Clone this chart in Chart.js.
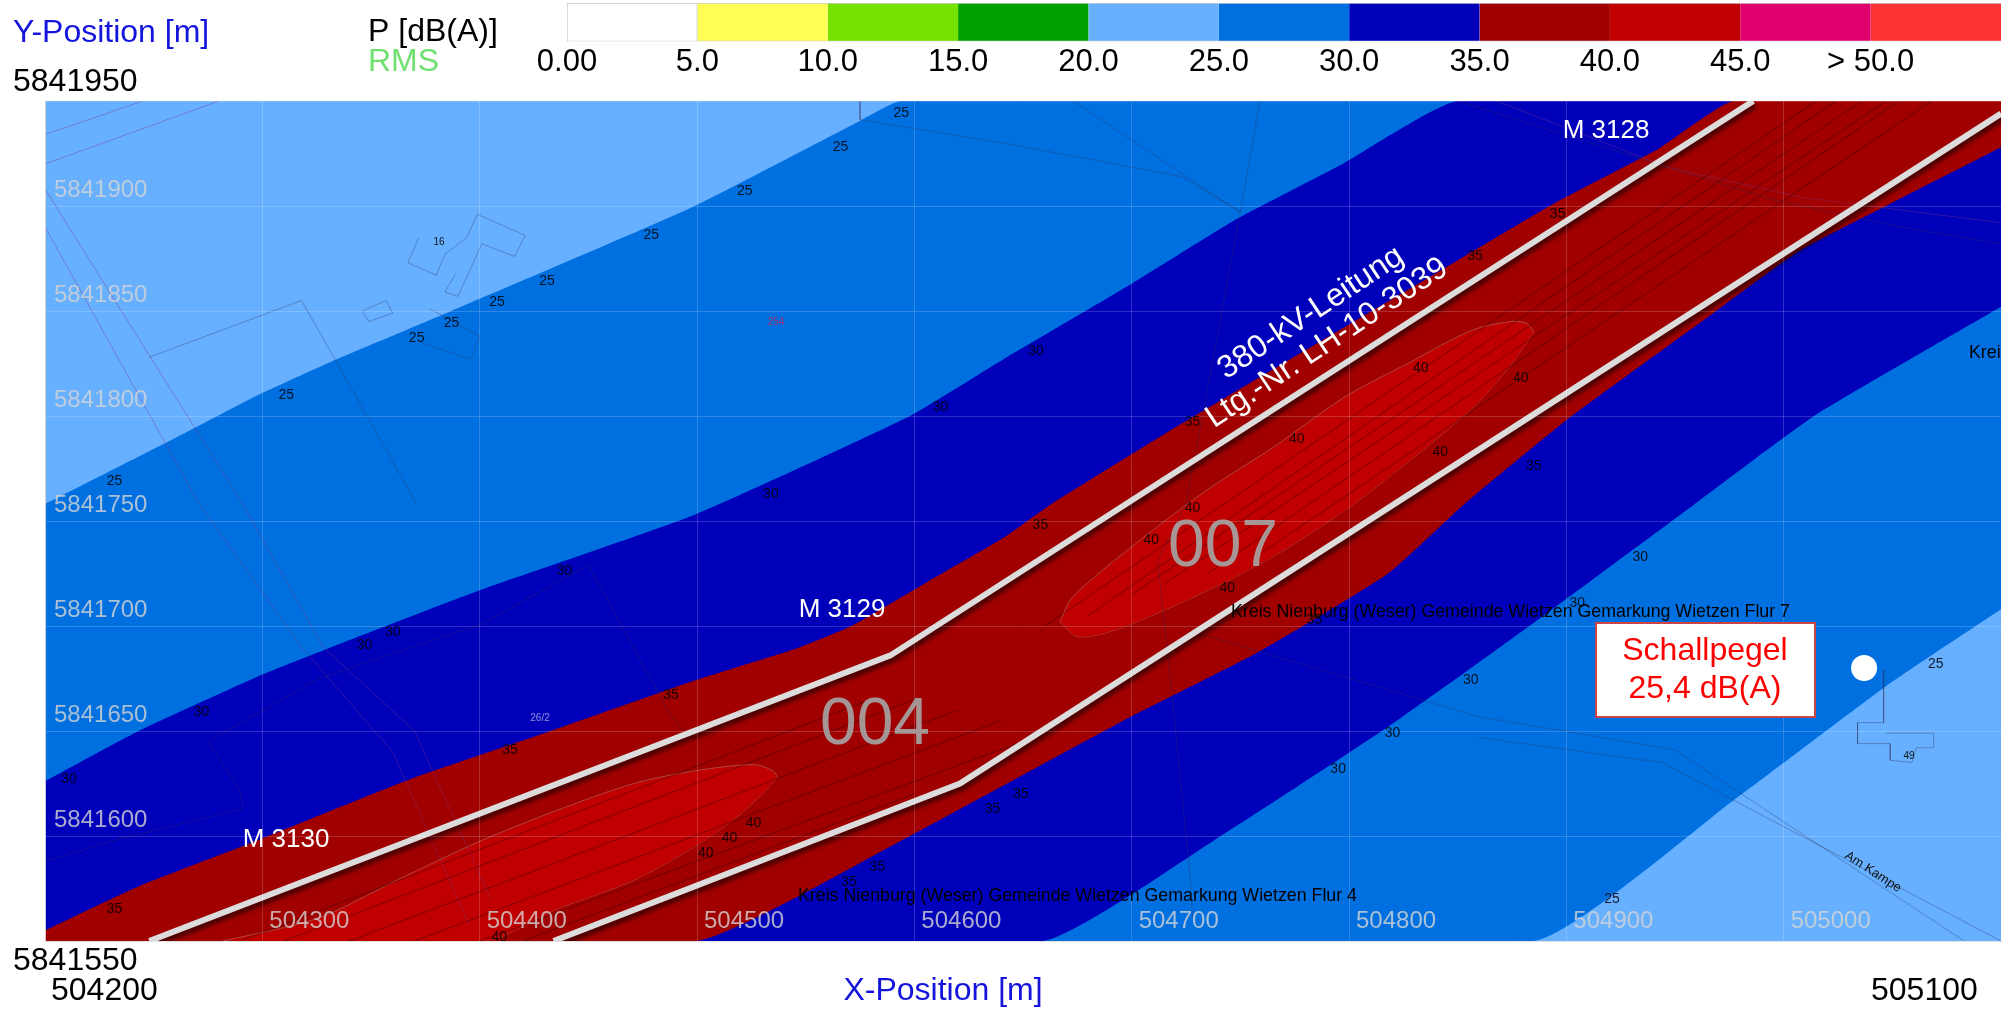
<!DOCTYPE html>
<html>
<head>
<meta charset="utf-8">
<title>Schallpegel</title>
<script src="https://cdn.jsdelivr.net/npm/chart.js@4"></script>
<style>
    html, body { margin: 0; background: #fff; overflow: hidden; }
    canvas { position: absolute; left: 0; top: 0; }
</style>
</head>
<body>
<canvas id="mapChart" width="2008" height="1009"></canvas>
<canvas id="scaleChart" width="2008" height="80"></canvas>
<script>
// Axis values
const xTicks = [504200, 504300, 504400, 504500, 504600, 504700, 504800, 504900, 505000, 505100];
const yTicks = [5841550, 5841600, 5841650, 5841700, 5841750, 5841800, 5841850, 5841900, 5841950];

// Colour scale
const levelSteps = [5, 5, 5, 5, 5, 5, 5, 5, 5, 5, 5];
const levelColors = ['#ffffff', '#ffff55', '#77e100', '#00a000', '#66b0ff', '#0070e0', '#0000bb', '#a00000', '#c00000', '#e0006e', '#ff3333'];
const levelTicks = [0, 5, 10, 15, 20, 25, 30, 35, 40, 45, 50];
const levelLabels = ['0.00', '5.0', '10.0', '15.0', '20.0', '25.0', '30.0', '35.0', '40.0', '45.0', '> 50.0'];

// Contour edges [x, y]
const edge25North = [[504200,5841758],[504259,5841789],[504298,5841810],[504332,5841826],[504387,5841850],[504497,5841899],[504574,5841940],[504594,5841950],[505100,5841950]];
const edge30North = [[504200,5841626],[504243,5841650],[504298,5841676],[504332,5841690],[504400,5841717],[504499,5841753],[504598,5841800],[504641,5841827],[504700,5841863],[504747,5841893],[504797,5841920],[504850,5841950],[505100,5841950]];
const edge35North = [[504200,5841555],[504243,5841576],[504298,5841598],[504368,5841627],[504430,5841649],[504499,5841674],[504545,5841689],[504571,5841700],[504606,5841721],[504641,5841742],[504663,5841758],[504724,5841797],[504853,5841876],[504894,5841901],[504942,5841927],[504977,5841950],[505100,5841950]];
const edge35South = [[504200,5841550],[504500,5841550],[504598,5841600],[504641,5841624],[504700,5841657],[504759,5841688],[504818,5841725],[504853,5841758],[504900,5841798],[504965,5841847],[505006,5841878],[505047,5841900],[505100,5841928]];
const edge30South = [[504200,5841550],[504659,5841550],[504738,5841598],[504818,5841652],[504883,5841700],[504959,5841758],[505014,5841800],[505100,5841852]];
const edge25South = [[504200,5841550],[504885,5841550],[504977,5841617],[505048,5841672],[505100,5841708]];

// 40 dB(A) lobes, upper and lower side
const lobe004Upper = [[504282,5841550],[504326,5841561],[504362,5841579],[504399,5841597],[504435,5841612],[504471,5841625],[504499,5841631],[504526,5841634],[504535,5841631],[504537,5841628]];
const lobe004Lower = [[504282,5841550],[504402,5841550],[504435,5841565],[504471,5841579],[504499,5841595],[504517,5841608],[504529,5841619],[504537,5841628]];
const lobe007Upper = [[504667,5841702],[504673,5841714],[504704,5841741],[504735,5841765],[504765,5841785],[504798,5841809],[504827,5841825],[504857,5841841],[504875,5841845],[504882,5841844],[504885,5841840]];
const lobe007Lower = [[504667,5841702],[504675,5841695],[504689,5841697],[504707,5841704],[504735,5841717],[504765,5841733],[504798,5841755],[504827,5841778],[504857,5841804],[504875,5841825],[504885,5841840]];

// Outer conductors of the line
const conductorNorth = [[504248,5841550],[504589,5841686],[504986,5841950]];
const conductorSouth = [[504434,5841550],[504621,5841625],[505100,5841944]];

// Thin source lines between the conductors
const sourceLines = [
    [[504660,5841700],[505015,5841950]],
    [[504680,5841705],[505024,5841950]],
    [[504700,5841715],[505036,5841950]],
    [[504715,5841720],[505047,5841950]],
    [[504735,5841725],[505053,5841950]],
    [[504760,5841735],[505068,5841950]],
    [[504290,5841550],[504580,5841665]],
    [[504310,5841550],[504600,5841665]],
    [[504340,5841550],[504620,5841660]],
    [[504370,5841550],[504640,5841655]],
    [[504400,5841550],[504650,5841645]],
    [[504420,5841550],[504600,5841620]]
];

// Cadastre: parcels, roads and buildings
const parcelLines = [
    [[504372,5841885],[504367,5841873],[504380,5841867],[504384,5841877],[504394,5841885],[504399,5841896],[504421,5841886],[504416,5841876],[504401,5841882],[504390,5841857],[504384,5841859],[504389,5841868]],
    [[504346,5841850],[504357,5841855],[504360,5841849],[504349,5841845],[504346,5841850]],
    [[504248,5841828],[504318,5841855],[504334,5841826],[504371,5841758]],
    [[504377,5841851],[504400,5841838],[504396,5841827],[504373,5841835]],
    [[504575,5841950],[504575,5841941],[504641,5841930],[504723,5841914],[504750,5841897]],
    [[504673,5841950],[504750,5841897]],
    [[504759,5841950],[504750,5841897],[504734,5841808],[504725,5841758],[504712,5841731],[504719,5841663],[504727,5841580],[504728,5841561]],
    [[504850,5841950],[504936,5841922],[504995,5841903],[505054,5841890],[505100,5841882]],
    [[504729,5841697],[504859,5841657],[504950,5841641],[505083,5841550]],
    [[504859,5841647],[504944,5841635],[505100,5841550]],
    [[505046,5841679],[505046,5841654],[505034,5841654],[505034,5841644],[505049,5841644],[505049,5841636],[505059,5841635],[505061,5841642],[505069,5841642],[505069,5841649],[505058,5841649],[505047,5841649]],
    [[504275,5841645],[504290,5841621],[504291,5841613],[504232,5841598],[504200,5841588]],
    [[504275,5841645],[504326,5841675],[504401,5841701],[504450,5841729],[504488,5841657],[504494,5841650]]
];
const boundaryLines = [
    [[504200,5841934],[504245,5841950]],
    [[504200,5841920],[504280,5841950]],
    [[504200,5841908],[504291,5841758],[504328,5841690],[504370,5841650],[504405,5841570]],
    [[504200,5841890],[504271,5841758],[504318,5841690],[504360,5841640],[504395,5841558]],
    [[504868,5841950],[504948,5841918],[505009,5841904],[505100,5841892]]
];

// Contour level labels
const labels25 = [[504594,5841944],[504566,5841928],[504522,5841907],[504479,5841886],[504431,5841864],[504408,5841854],[504387,5841844],[504371,5841837],[504311,5841810],[504232,5841769],[505070,5841682],[504921,5841570]];
const labels30 = [[504612,5841804],[504534,5841763],[504656,5841831],[504439,5841726],[504360,5841697],[504347,5841691],[504272,5841659],[504211,5841627],[504934,5841733],[504905,5841711],[504856,5841674],[504820,5841649],[504795,5841632]];
const labels35 = [[504896,5841896],[504858,5841876],[504728,5841797],[504885,5841776],[504488,5841667],[504414,5841641],[504232,5841565],[504583,5841585],[504570,5841578],[504636,5841613],[504658,5841748],[504649,5841620],[504784,5841703]];
const labels40 = [[504833,5841823],[504879,5841818],[504776,5841789],[504842,5841783],[504728,5841756],[504709,5841741],[504744,5841718],[504526,5841606],[504515,5841599],[504504,5841592],[504409,5841552]];

// Receiver point
const receiver = [[505037,5841680]];

function toPoints(pairs) {
    return pairs.map(p => ({ x: p[0], y: p[1] }));
}

function edgeDataset(pairs, color) {
    return { data: toPoints(pairs), borderWidth: 0, pointRadius: 0, fill: 'end', backgroundColor: color, tension: 0.15 };
}

function thinDataset(pairs, color, width) {
    return { data: toPoints(pairs), borderColor: color, borderWidth: width, pointRadius: 0, fill: false };
}

const LIGHT = levelColors[4], MID = levelColors[5], DARK = levelColors[6], DEEPRED = levelColors[7], RED = levelColors[8];
const LOBE_LINE = 'rgba(170,100,90,0.7)';

// First dataset is painted on top, so the list runs from front to back
let datasets = [];
datasets.push({ data: toPoints(receiver), pointRadius: 13, pointBackgroundColor: '#fff', pointBorderWidth: 0, showLine: false });
datasets.push({ data: toPoints(conductorNorth), borderColor: '#dcdcdc', borderWidth: 6, pointRadius: 0, conductor: true });
datasets.push({ data: toPoints(conductorSouth), borderColor: '#dcdcdc', borderWidth: 6, pointRadius: 0, conductor: true });
sourceLines.forEach(l => datasets.push(thinDataset(l, 'rgba(50,0,0,0.45)', 1)));
parcelLines.forEach(l => datasets.push(thinDataset(l, 'rgba(50,50,90,0.35)', 1)));
boundaryLines.forEach(l => datasets.push(thinDataset(l, 'rgba(130,50,130,0.4)', 1)));

const lobeStart = datasets.length;
datasets.push({ data: toPoints(lobe004Upper), borderColor: LOBE_LINE, borderWidth: 1, pointRadius: 0, tension: 0.3, backgroundColor: RED, fill: lobeStart + 1 });
datasets.push({ data: toPoints(lobe004Lower), borderColor: LOBE_LINE, borderWidth: 1, pointRadius: 0, tension: 0.3, fill: false });
datasets.push({ data: toPoints(lobe007Upper), borderColor: LOBE_LINE, borderWidth: 1, pointRadius: 0, tension: 0.3, backgroundColor: RED, fill: lobeStart + 3 });
datasets.push({ data: toPoints(lobe007Lower), borderColor: LOBE_LINE, borderWidth: 1, pointRadius: 0, tension: 0.3, fill: false });

datasets.push(edgeDataset(edge25North, LIGHT));
datasets.push(edgeDataset(edge30North, MID));
datasets.push(edgeDataset(edge35North, DARK));
datasets.push(edgeDataset(edge35South, DEEPRED));
datasets.push(edgeDataset(edge30South, DARK));
datasets.push(edgeDataset(edge25South, MID));
datasets.push(edgeDataset([[504200,5841550],[505100,5841550]], LIGHT));

function putText(ctx, str, x, y, font, color, align, angle) {
    ctx.save();
    ctx.translate(x, y);
    if (angle) ctx.rotate(angle * Math.PI / 180);
    ctx.font = font;
    ctx.fillStyle = color;
    ctx.textAlign = align || 'center';
    ctx.textBaseline = 'middle';
    ctx.fillText(str, 0, 0);
    ctx.restore();
}

// Shadow under the conductors
const conductorShadow = {
    id: 'conductorShadow',
    beforeDatasetDraw(chart, args) {
        if (!chart.data.datasets[args.index].conductor) return;
        const ctx = chart.ctx;
        ctx.save();
        ctx.shadowColor = 'rgba(0,0,0,0.6)';
        ctx.shadowOffsetX = 2;
        ctx.shadowOffsetY = 4;
        ctx.shadowBlur = 4;
    },
    afterDatasetDraw(chart, args) {
        if (chart.data.datasets[args.index].conductor) chart.ctx.restore();
    }
};

// All the text of the map
const mapText = {
    id: 'mapText',
    afterDraw(chart) {
        const ctx = chart.ctx, xs = chart.scales.x, ys = chart.scales.y, area = chart.chartArea;
        const FONT = '"Liberation Sans", Arial, sans-serif';
        const tickColor = 'rgba(212,212,212,0.8)';

        ctx.save();
        ctx.beginPath();
        ctx.rect(area.left, area.top, area.right - area.left, area.bottom - area.top);
        ctx.clip();

        const drawLevel = (list, txt) => list.forEach(p => {
            putText(ctx, txt, xs.getPixelForValue(p[0]), ys.getPixelForValue(p[1]), '14px ' + FONT, 'rgba(0,0,0,0.85)');
        });
        drawLevel(labels25, '25');
        drawLevel(labels30, '30');
        drawLevel(labels35, '35');
        drawLevel(labels40, '40');

        // Inner tick labels
        xTicks.slice(1, -1).forEach(v => {
            putText(ctx, String(v), xs.getPixelForValue(v) + 7, area.bottom - 20, '24px ' + FONT, tickColor, 'left');
        });
        yTicks.slice(1, -1).forEach(v => {
            putText(ctx, String(v), area.left + 9, ys.getPixelForValue(v) - 16, '24px ' + FONT, tickColor, 'left');
        });

        // Map labels
        const small = '17.8px ' + FONT;
        putText(ctx, 'Kreis Nienburg (Weser) Gemeinde Wietzen Gemarkung Wietzen Flur 7', 1231, 612, small, '#000', 'left');
        putText(ctx, 'Kreis Nienburg (Weser) Gemeinde Wietzen Gemarkung Wietzen Flur 4', 798, 896, small, '#000', 'left');
        putText(ctx, 'Kreis Nienburg (Weser)', 1969, 353, small, '#000', 'left');
        putText(ctx, 'Am Kampe', 1873, 872, '13px ' + FONT, '#111', 'center', 33);
        putText(ctx, '16', 439, 242, '10px ' + FONT, '#111');
        putText(ctx, '49', 1909, 756, '10px ' + FONT, '#111');
        putText(ctx, '26/2', 540, 718, '10px ' + FONT, 'rgba(200,200,230,0.7)');
        putText(ctx, '254', 776, 322, '10px ' + FONT, 'rgba(200,30,80,0.8)');

        putText(ctx, 'M 3128', 1606, 131, '26px ' + FONT, '#fff');
        putText(ctx, 'M 3129', 842, 610, '26px ' + FONT, '#fff');
        putText(ctx, 'M 3130', 286, 840, '26px ' + FONT, '#fff');
        putText(ctx, '380-kV-Leitung', 1311, 313, '32px ' + FONT, '#fff', 'center', -33.5);
        putText(ctx, 'Ltg.-Nr. LH-10-3039', 1327, 343, '32px ' + FONT, '#fff', 'center', -33.5);
        putText(ctx, '004', 875, 726, '66px ' + FONT, 'rgba(165,165,165,0.9)');
        putText(ctx, '007', 1223, 548, '66px ' + FONT, 'rgba(165,165,165,0.9)');

        // Result box
        ctx.fillStyle = '#fff';
        ctx.strokeStyle = '#cc4444';
        ctx.lineWidth = 2;
        ctx.fillRect(1596, 623, 219, 94);
        ctx.strokeRect(1596, 623, 219, 94);
        putText(ctx, 'Schallpegel', 1705, 651, '32px ' + FONT, '#ff0000');
        putText(ctx, '25,4 dB(A)', 1705, 689, '32px ' + FONT, '#ff0000');
        ctx.restore();

        // Text outside the plot
        const big = '32px ' + FONT;
        putText(ctx, 'Y-Position [m]', 13, 33, big, '#1414dc', 'left');
        putText(ctx, 'X-Position [m]', 943, 991, big, '#1414dc');
        putText(ctx, 'P [dB(A)]', 368, 32, big, '#000', 'left');
        putText(ctx, 'RMS', 368, 62, big, '#70e070', 'left');
        putText(ctx, String(yTicks[yTicks.length - 1]), 13, 82, big, '#000', 'left');
        putText(ctx, String(yTicks[0]), 13, 961, big, '#000', 'left');
        putText(ctx, String(xTicks[0]), 51, 991, big, '#000', 'left');
        putText(ctx, String(xTicks[xTicks.length - 1]), 1871, 991, big, '#000', 'left');
    }
};

const gridLine = { color: 'rgba(255,255,255,0.18)', lineWidth: 1, drawTicks: false, z: 1 };

new Chart(document.getElementById('mapChart').getContext('2d'), {
    type: 'line',
    data: { datasets: datasets },
    plugins: [conductorShadow, mapText],
    options: {
        responsive: false,
        animation: false,
        parsing: false,
        layout: { autoPadding: false, padding: { left: 45, top: 101, right: 7, bottom: 68 } },
        plugins: { legend: { display: false }, tooltip: { enabled: false } },
        scales: {
            x: {
                type: 'linear', min: xTicks[0], max: xTicks[xTicks.length - 1],
                afterBuildTicks: s => { s.ticks = xTicks.map(v => ({ value: v })); },
                ticks: { display: false }, grid: gridLine,
                border: { color: 'rgba(215,215,215,0.9)', z: 1 }
            },
            y: {
                type: 'linear', min: yTicks[0], max: yTicks[yTicks.length - 1],
                afterBuildTicks: s => { s.ticks = yTicks.map(v => ({ value: v })); },
                ticks: { display: false }, grid: gridLine,
                border: { color: 'rgba(215,215,215,0.9)', z: 1 }
            }
        }
    }
});

// Colour scale as one stacked bar
new Chart(document.getElementById('scaleChart').getContext('2d'), {
    type: 'bar',
    data: {
        labels: ['P'],
        datasets: levelSteps.map((v, i) => ({
            data: [v],
            backgroundColor: levelColors[i],
            borderColor: '#c8c8c8',
            borderWidth: i === 0 ? 1 : { top: 1, bottom: 1 },
            barPercentage: 1,
            categoryPercentage: 1,
            borderSkipped: false
        }))
    },
    options: {
        indexAxis: 'y',
        responsive: false,
        animation: false,
        layout: { padding: { left: 567, top: 3, right: 7, bottom: 0 } },
        plugins: { legend: { display: false }, tooltip: { enabled: false } },
        scales: {
            x: {
                type: 'linear', stacked: true, min: 0, max: 55,
                afterBuildTicks: s => { s.ticks = levelTicks.map(v => ({ value: v })); },
                grid: { display: false, drawTicks: false },
                border: { display: false },
                ticks: {
                    autoSkip: false, maxRotation: 0, padding: 2, color: '#000',
                    font: { family: '"Liberation Sans", Arial, sans-serif', size: 31 },
                    callback: (v, i) => levelLabels[i]
                }
            },
            y: { stacked: true, display: false }
        }
    }
});
</script>
</body>
</html>
